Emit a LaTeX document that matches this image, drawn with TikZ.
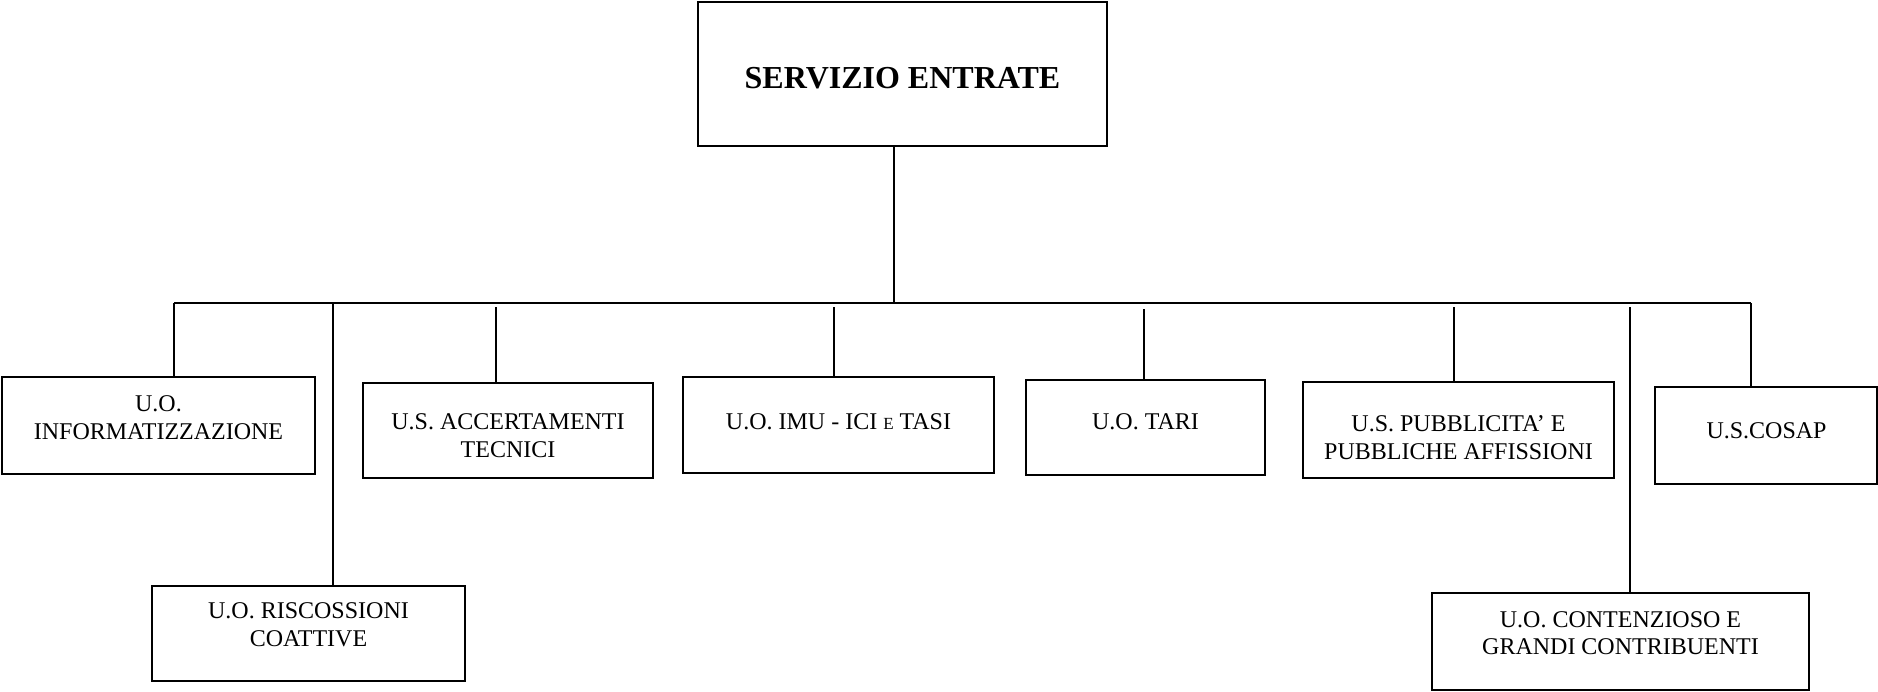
\documentclass[tikz,border=0pt]{standalone}
\usepackage{fontspec}
\setmainfont{Liberation Serif}
\begin{document}
\begin{tikzpicture}[x=0.5pt,y=-0.5pt,
  box/.style={draw=black,line width=1pt,rectangle,inner sep=0pt},
  lbl/.style={align=center,font=\fontsize{12}{13.8}\selectfont,inner sep=0pt},
  link/.style={draw=black,line width=1pt}]
\useasboundingbox (0,0) rectangle (1878,691);
% boxes (corner coordinates -> centre and size)
\newcommand{\orgbox}[5]{%
  \node[box,minimum width={(#4-#2)*0.5pt},minimum height={(#5-#3)*0.5pt}] (#1) at ({(#2+#4)/2},{(#3+#5)/2}) {};}
\orgbox{top}{698}{2}{1107}{146}
\orgbox{info}{2}{377}{315}{474}
\orgbox{risc}{152}{586}{465}{681}
\orgbox{acc}{363}{383}{653}{478}
\orgbox{imu}{683}{377}{994}{473}
\orgbox{tari}{1026}{380}{1265}{475}
\orgbox{pubb}{1303}{382}{1614}{478}
\orgbox{cont}{1432}{593}{1809}{690}
\orgbox{cosap}{1655}{387}{1877}{484}
% texts
\node[lbl,font=\fontsize{16}{19}\selectfont\bfseries] (ttop) at (902.5,78) {SERVIZIO ENTRATE};
\node[lbl] (tinfo) at (158.5,417.4) {U.O.\\INFORMATIZZAZIONE};
\node[lbl] (trisc) at (308.5,624.6) {U.O. RISCOSSIONI\\COATTIVE};
\node[lbl] (tacc) at (508,435.4) {U.S. ACCERTAMENTI\\TECNICI};
\node[lbl] (timu) at (838.5,421.6) {U.O. IMU - ICI {\fontsize{8.5}{10}\selectfont E} TASI};
\node[lbl] (ttari) at (1145.5,421.6) {U.O. TARI};
\node[lbl] (tpubb) at (1458.5,437.8) {U.S. PUBBLICITA’ E\\PUBBLICHE AFFISSIONI};
\node[lbl] (tcont) at (1620.5,633) {U.O. CONTENZIOSO E\\GRANDI CONTRIBUENTI};
\node[lbl] (tcosap) at (1766.5,431) {U.S.COSAP};
% bus
\coordinate (busL) at (174,303);
\coordinate (busR) at (1751,303);
\coordinate (busM) at (893.5,303);
\draw[link] (busL) -- (busR);
\draw[link] (top.south -| busM) -- (busM);
% branch points
\coordinate (binfo) at (174,303);
\coordinate (brisc) at (333,303);
\coordinate (bacc) at (496,307);
\coordinate (bimu) at (834,307);
\coordinate (btari) at (1144,309);
\coordinate (bpubb) at (1454,307);
\coordinate (bcont) at (1630,307);
\coordinate (bcosap) at (1751,303);
\draw[link] (binfo) -- (binfo |- info.north);
\draw[link] (brisc) -- (brisc |- risc.north);
\draw[link] (bacc) -- (bacc |- acc.north);
\draw[link] (bimu) -- (bimu |- imu.north);
\draw[link] (btari) -- (btari |- tari.north);
\draw[link] (bpubb) -- (bpubb |- pubb.north);
\draw[link] (bcont) -- (bcont |- cont.north);
\draw[link] (bcosap) -- (bcosap |- cosap.north);
\end{tikzpicture}
\end{document}
